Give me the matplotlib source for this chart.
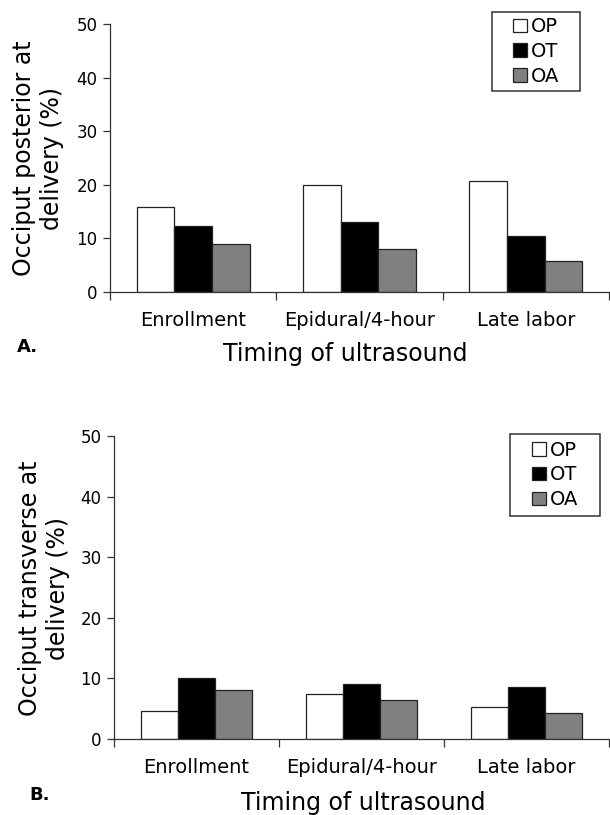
import matplotlib
matplotlib.use("Agg")
import matplotlib.pyplot as plt
from matplotlib.patches import Rectangle
import numpy as np

plt.rcParams['font.family'] = ['DejaVu Sans']

categories = ["Enrollment", "Epidural/4-hour", "Late labor"]
series = ["OP", "OT", "OA"]
colors = ["white", "black", "#808080"]

# Panel A: Occiput posterior at delivery (%)
a_op = [15.8, 19.9, 20.8]
a_ot = [12.4, 13.0, 10.4]
a_oa = [9.0, 8.0, 5.7]

# Panel B: Occiput transverse at delivery (%)
b_op = [4.6, 7.5, 5.2]
b_ot = [10.1, 9.1, 8.6]
b_oa = [8.1, 6.4, 4.3]

yticks = [0, 10, 20, 30, 40, 50]

W, H = 610, 815
fig = plt.figure(figsize=(W / 100, H / 100), dpi=100)


def px_axes(left, right, top, bottom):
    return fig.add_axes([left / W, 1 - bottom / H, (right - left) / W, (bottom - top) / H])


def draw_panel(ax, vals, box):
    x = np.arange(len(categories))
    bw = 0.226
    handles = []
    for i, (name, v, c) in enumerate(zip(series, vals, colors)):
        bc = ax.bar(x + (i - 1) * bw, v, width=bw, color=c, edgecolor="#222222",
                    linewidth=0.9, label=name, zorder=2)
        handles.append(bc)
    ax.set_xlim(-0.5, 2.5)
    ax.set_ylim(0, 50)
    ax.set_yticks(yticks)
    ax.tick_params(axis='y', labelsize=12, length=5, width=0.9, color="#333333",
                   direction='out', pad=4)
    ax.set_xticks([-0.5, 0.5, 1.5, 2.5])
    ax.set_xticklabels([])
    ax.tick_params(axis='x', which='major', length=6, width=0.9, color="#333333",
                   direction='out')
    ax.set_xticks(x, minor=True)
    ax.set_xticklabels(categories, minor=True)
    ax.tick_params(axis='x', which='minor', length=0, labelsize=14, pad=14)
    for s in ['top', 'right']:
        ax.spines[s].set_visible(False)
    for s in ['left', 'bottom']:
        ax.spines[s].set_color("#333333")
        ax.spines[s].set_linewidth(0.9)
    ax.set_facecolor("none")
    # legend frame box (pixels: left, right, top, bottom)
    l, r, t, b = box
    fig.patches.append(Rectangle((l / W, 1 - b / H), (r - l) / W, (b - t) / H,
                                 transform=fig.transFigure, facecolor="white",
                                 edgecolor="#333333", linewidth=1.1, zorder=5))
    leg = fig.legend(handles, series, loc='center',
                     bbox_to_anchor=((l + r) / 2 / W, 1 - (t + b) / 2 / H),
                     bbox_transform=fig.transFigure, fontsize=14,
                     frameon=False, handlelength=0.7, handleheight=0.7,
                     handletextpad=0.2, borderpad=0, labelspacing=0.3,
                     borderaxespad=0)
    leg.set_zorder(6)


axA = px_axes(110, 609, 24, 292)
draw_panel(axA, [a_op, a_ot, a_oa], (492, 580, 12, 91))
axB = px_axes(114, 609, 436, 739)
draw_panel(axB, [b_op, b_ot, b_oa], (510, 600, 434, 516))

fig.text(38 / W, 1 - 158 / H, "Occiput posterior at\ndelivery (%)", rotation=90,
         ha='center', va='center', multialignment='center', fontsize=17,
         linespacing=1.2)
fig.text(44 / W, 1 - 588 / H, "Occiput transverse at\ndelivery (%)", rotation=90,
         ha='center', va='center', multialignment='center', fontsize=17,
         linespacing=1.2)

fig.text(345 / W, 1 - 354 / H, "Timing of ultrasound", ha='center', va='center',
         fontsize=17)
fig.text(363 / W, 1 - 803 / H, "Timing of ultrasound", ha='center', va='center',
         fontsize=17)

fig.text(17 / W, 1 - 347 / H, "A.", ha='left', va='center', fontsize=13,
         fontweight='bold')
fig.text(29 / W, 1 - 795 / H, "B.", ha='left', va='center', fontsize=13,
         fontweight='bold')

fig.savefig("out.png", dpi=100, facecolor="white")
